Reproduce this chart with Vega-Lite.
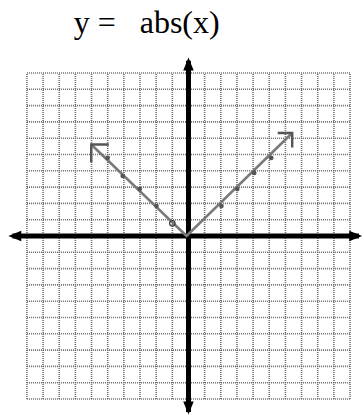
{
  "$schema": "https://vega.github.io/schema/vega-lite/v6.json",
  "width": 363,
  "height": 415,
  "padding": 0,
  "autosize": {"type": "fit", "contains": "padding"},
  "background": "white",
  "config": {"view": {"stroke": null}},
  "datasets": {
    "vlines": [
      {"gx": -10}, {"gx": -9}, {"gx": -8}, {"gx": -7}, {"gx": -6}, {"gx": -5}, {"gx": -4},
      {"gx": -3}, {"gx": -2}, {"gx": -1}, {"gx": 0}, {"gx": 1}, {"gx": 2}, {"gx": 3},
      {"gx": 4}, {"gx": 5}, {"gx": 6}, {"gx": 7}, {"gx": 8}, {"gx": 9}, {"gx": 10}
    ],
    "hlines": [
      {"gy": -10}, {"gy": -9}, {"gy": -8}, {"gy": -7}, {"gy": -6}, {"gy": -5}, {"gy": -4},
      {"gy": -3}, {"gy": -2}, {"gy": -1}, {"gy": 0}, {"gy": 1}, {"gy": 2}, {"gy": 3},
      {"gy": 4}, {"gy": 5}, {"gy": 6}, {"gy": 7}, {"gy": 8}, {"gy": 9}, {"gy": 10}
    ],
    "axes": [
      {"x": -10.9, "x2": 10.55, "y": 0, "y2": 0},
      {"x": 0, "x2": 0, "y": 10.75, "y2": -10.8}
    ],
    "axisArrows": [
      {"x": -11.15, "y": 0, "angle": 270},
      {"x": 10.75, "y": 0, "angle": 90},
      {"x": 0, "y": 10.95, "angle": 0},
      {"x": 0, "y": -10.95, "angle": 180}
    ],
    "curve": [
      {"x": -6.02, "y": 5.61, "o": 0},
      {"x": -0.12, "y": 0.0, "o": 1},
      {"x": 6.42, "y": 6.32, "o": 2}
    ],
    "dots": [
      {"x": -5.0, "y": 4.79}, {"x": -4.07, "y": 3.68}, {"x": -3.02, "y": 2.88},
      {"x": -1.98, "y": 1.84}, {"x": 2.04, "y": 1.84}, {"x": 3.02, "y": 2.88},
      {"x": 4.07, "y": 3.87}, {"x": 5.12, "y": 4.79}
    ],
    "openDot": [{"x": -1.0, "y": 0.78}],
    "chevrons": [
      {"x": -6.02, "y": 5.61, "angle": -45, "s": 620},
      {"x": 6.42, "y": 6.32, "angle": 45, "s": 420}
    ],
    "title": [{"x": -2.59, "y": 12.45, "t": "y = \u00a0\u00a0abs(x)"}]
  },
  "encoding": {},
  "layer": [
    {
      "data": {"name": "vlines"},
      "mark": {"type": "rule", "stroke": "#6e6e6e", "strokeWidth": 1.6, "strokeDash": [1, 1]},
      "encoding": {
        "x": {"field": "gx", "type": "quantitative", "scale": {"domain": [-11.667, 10.741], "nice": false, "zero": false}, "axis": null},
        "y": {"datum": -10, "type": "quantitative", "scale": {"domain": [-10.982, 14.479], "nice": false, "zero": false}, "axis": null},
        "y2": {"datum": 10}
      }
    },
    {
      "data": {"name": "hlines"},
      "mark": {"type": "rule", "stroke": "#6e6e6e", "strokeWidth": 1.6, "strokeDash": [1, 1]},
      "encoding": {
        "y": {"field": "gy", "type": "quantitative"},
        "x": {"datum": -10, "type": "quantitative"},
        "x2": {"datum": 10}
      }
    },
    {
      "data": {"name": "axes"},
      "mark": {"type": "rule", "stroke": "black", "strokeWidth": 5},
      "encoding": {
        "x": {"field": "x", "type": "quantitative"},
        "x2": {"field": "x2"},
        "y": {"field": "y", "type": "quantitative"},
        "y2": {"field": "y2"}
      }
    },
    {
      "data": {"name": "axisArrows"},
      "mark": {"type": "point", "shape": "M0,0 L-0.65,1.6 L0.65,1.6 Z", "filled": true, "color": "black", "opacity": 1, "size": 260},
      "encoding": {
        "x": {"field": "x", "type": "quantitative"},
        "y": {"field": "y", "type": "quantitative"},
        "angle": {"field": "angle", "type": "quantitative", "scale": null}
      }
    },
    {
      "data": {"name": "curve"},
      "mark": {"type": "line", "stroke": "#7a7a7a", "strokeWidth": 2.6},
      "encoding": {
        "x": {"field": "x", "type": "quantitative"},
        "y": {"field": "y", "type": "quantitative"},
        "order": {"field": "o"}
      }
    },
    {
      "data": {"name": "dots"},
      "mark": {"type": "point", "filled": true, "color": "#555555", "opacity": 1, "size": 22},
      "encoding": {
        "x": {"field": "x", "type": "quantitative"},
        "y": {"field": "y", "type": "quantitative"}
      }
    },
    {
      "data": {"name": "openDot"},
      "mark": {"type": "point", "filled": false, "color": "#444444", "strokeWidth": 1.3, "opacity": 1, "size": 30},
      "encoding": {
        "x": {"field": "x", "type": "quantitative"},
        "y": {"field": "y", "type": "quantitative"}
      }
    },
    {
      "data": {"name": "chevrons"},
      "mark": {"type": "point", "shape": "M-1,1 L0,0 L1,1", "filled": false, "color": "#555555", "strokeWidth": 2.4, "opacity": 1},
      "encoding": {
        "x": {"field": "x", "type": "quantitative"},
        "y": {"field": "y", "type": "quantitative"},
        "angle": {"field": "angle", "type": "quantitative", "scale": null},
        "size": {"field": "s", "type": "quantitative", "scale": null}
      }
    },
    {
      "data": {"name": "title"},
      "mark": {"type": "text", "font": "Liberation Serif", "fontSize": 32, "color": "black", "align": "center", "baseline": "alphabetic"},
      "encoding": {
        "x": {"field": "x", "type": "quantitative"},
        "y": {"field": "y", "type": "quantitative"},
        "text": {"field": "t"}
      }
    }
  ]
}
